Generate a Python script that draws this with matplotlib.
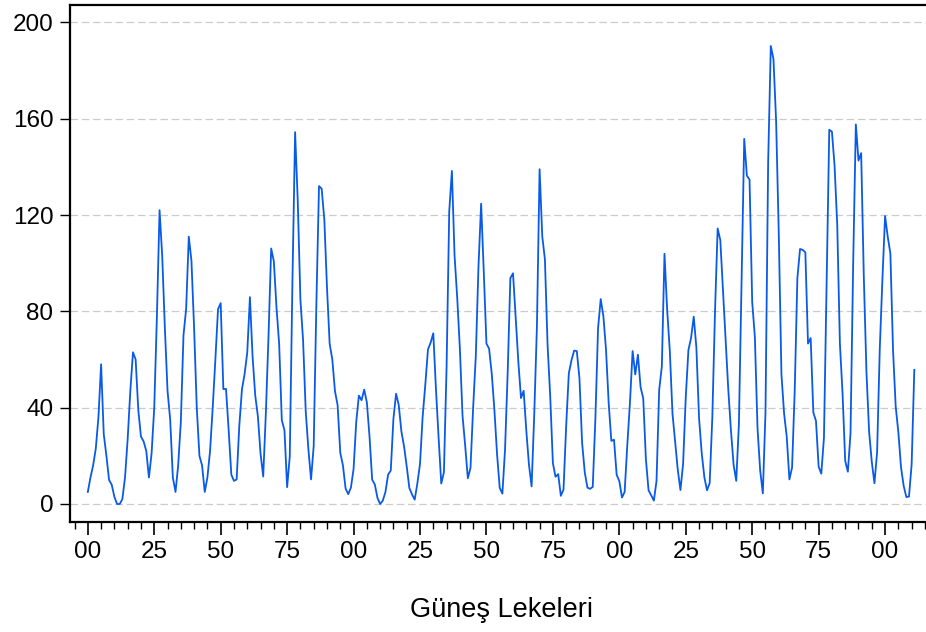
import matplotlib
matplotlib.use("Agg")
import matplotlib.pyplot as plt
from matplotlib.ticker import MultipleLocator, FuncFormatter

# Yearly sunspot numbers, 1700-2011
years = list(range(1700, 2012))
sunspots = [
    5.0, 11.0, 16.0, 23.0, 36.0, 58.0, 29.0, 20.0, 10.0, 8.0,
    3.0, 0.0, 0.0, 2.0, 11.0, 27.0, 47.0, 63.0, 60.0, 39.0,
    28.0, 26.0, 22.0, 11.0, 21.0, 40.0, 78.0, 122.0, 103.0, 73.0,
    47.0, 35.0, 11.0, 5.0, 16.0, 34.0, 70.0, 81.0, 111.0, 101.0,
    73.0, 40.0, 20.0, 16.0, 5.0, 11.0, 22.0, 40.0, 60.0, 80.9,
    83.4, 47.7, 47.8, 30.7, 12.2, 9.6, 10.2, 32.4, 47.6, 54.0,
    62.9, 85.9, 61.2, 45.1, 36.4, 20.9, 11.4, 37.8, 69.8, 106.1,
    100.8, 81.6, 66.5, 34.8, 30.6, 7.0, 19.8, 92.5, 154.4, 125.9,
    84.8, 68.1, 38.5, 22.8, 10.2, 24.1, 82.9, 132.0, 130.9, 118.1,
    89.9, 66.6, 60.0, 46.9, 41.0, 21.3, 16.0, 6.4, 4.1, 6.8,
    14.5, 34.0, 45.0, 43.1, 47.5, 42.2, 28.1, 10.1, 8.1, 2.5,
    0.0, 1.4, 5.0, 12.2, 13.9, 35.4, 45.8, 41.1, 30.1, 23.9,
    15.6, 6.6, 4.0, 1.8, 8.5, 16.6, 36.3, 49.6, 64.2, 67.0,
    70.9, 47.8, 27.5, 8.5, 13.2, 56.9, 121.5, 138.3, 103.2, 85.7,
    64.6, 36.7, 24.2, 10.7, 15.0, 40.1, 61.5, 98.5, 124.7, 96.3,
    66.6, 64.5, 54.1, 39.0, 20.6, 6.7, 4.3, 22.7, 54.8, 93.8,
    95.8, 77.2, 59.1, 44.0, 47.0, 30.5, 16.3, 7.3, 37.6, 74.0,
    139.0, 111.2, 101.6, 66.2, 44.7, 17.0, 11.3, 12.4, 3.4, 6.0,
    32.3, 54.3, 59.7, 63.7, 63.5, 52.2, 25.4, 13.1, 6.8, 6.3,
    7.1, 35.6, 73.0, 85.1, 78.0, 64.0, 41.8, 26.2, 26.7, 12.1,
    9.5, 2.7, 5.0, 24.4, 42.0, 63.5, 53.8, 62.0, 48.5, 43.9,
    18.6, 5.7, 3.6, 1.4, 9.6, 47.4, 57.1, 103.9, 80.6, 63.6,
    37.6, 26.1, 14.2, 5.8, 16.7, 44.3, 63.9, 69.0, 77.8, 64.9,
    35.7, 21.2, 11.1, 5.7, 8.7, 36.1, 79.7, 114.4, 109.6, 88.8,
    67.8, 47.5, 30.6, 16.3, 9.6, 33.2, 92.6, 151.6, 136.3, 134.7,
    83.9, 69.4, 31.5, 13.9, 4.4, 38.0, 141.7, 190.2, 184.8, 159.0,
    112.3, 53.9, 37.6, 27.9, 10.2, 15.1, 47.0, 93.8, 105.9, 105.5,
    104.5, 66.6, 68.9, 38.0, 34.5, 15.5, 12.6, 27.5, 92.5, 155.4,
    154.6, 140.4, 115.9, 66.6, 45.9, 17.9, 13.4, 29.4, 100.2, 157.6,
    142.6, 145.7, 94.3, 54.6, 29.9, 17.5, 8.6, 21.5, 64.3, 93.3,
    119.6, 111.0, 104.0, 63.7, 40.4, 29.8, 15.2, 7.5, 2.9, 3.1,
    16.5, 55.7,
]
y_ticks = [0, 40, 80, 120, 160, 200]
x_label = "Güneş Lekeleri"

plt.rcParams['font.family'] = ['Liberation Sans', 'DejaVu Sans']

fig = plt.figure(figsize=(9.26, 6.32), dpi=100)
ax = fig.add_axes([70 / 926, 1 - 521.7 / 632, 1 - 70 / 926, (521.7 - 5) / 632])

ax.plot(years, sunspots, color='#0a5ae8', linewidth=1.3, zorder=3)

ax.set_xlim(1693.3, 2015.4)
ax.set_ylim(-7.35, 207.2)

ax.set_yticks(y_ticks)
ax.yaxis.grid(True, color='#cccccc', linestyle=(0, (6, 3)), linewidth=0.9)
ax.set_axisbelow(True)

ax.xaxis.set_major_locator(MultipleLocator(25))
ax.xaxis.set_minor_locator(MultipleLocator(5))
ax.xaxis.set_major_formatter(FuncFormatter(lambda v, p: "%02d" % (int(round(v)) % 100)))

ax.tick_params(axis='x', which='major', length=9, width=1.2, labelsize=17.5, pad=5, direction='out')
ax.tick_params(axis='x', which='minor', length=5, width=1.0, direction='out')
ax.tick_params(axis='y', length=7, width=1.0, labelsize=17.5, pad=5, direction='out')

for side in ['left', 'bottom', 'top']:
    ax.spines[side].set_linewidth(1.6)
ax.spines['right'].set_visible(False)

fig.text(501 / 926, 1 - 610 / 632, x_label, ha='center', va='center', fontsize=19.5)

fig.savefig("out.png", dpi=100)
